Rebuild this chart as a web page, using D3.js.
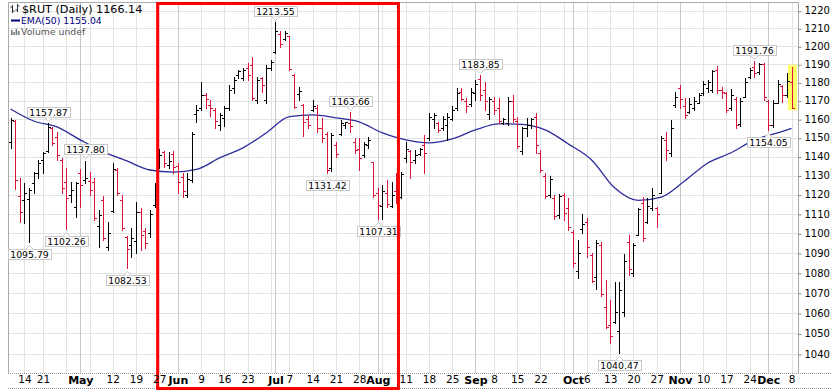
<!DOCTYPE html>
<html>
<head>
<meta charset="utf-8">
<script src="https://cdn.jsdelivr.net/npm/d3@7"></script>
<style>
  body { margin: 0; background: #fff; }
  text { font-family: "DejaVu Sans", Verdana, sans-serif; }
</style>
</head>
<body>
<div id="chart"></div>
<script>
// trading days, Apr 9 - Dec 8 2014
var dates = [
  '04-09','04-10','04-11','04-14','04-15','04-16','04-17','04-21','04-22','04-23','04-24','04-25','04-28','04-29','04-30',
  '05-01','05-02','05-05','05-06','05-07','05-08','05-09','05-12','05-13','05-14','05-15','05-16','05-19','05-20','05-21','05-22','05-23','05-27','05-28','05-29','05-30',
  '06-02','06-03','06-04','06-05','06-06','06-09','06-10','06-11','06-12','06-13','06-16','06-17','06-18','06-19','06-20','06-23','06-24','06-25','06-26','06-27','06-30',
  '07-01','07-02','07-03','07-07','07-08','07-09','07-10','07-11','07-14','07-15','07-16','07-17','07-18','07-21','07-22','07-23','07-24','07-25','07-28','07-29','07-30','07-31',
  '08-01','08-04','08-05','08-06','08-07','08-08','08-11','08-12','08-13','08-14','08-15','08-18','08-19','08-20','08-21','08-22','08-25','08-26','08-27','08-28','08-29',
  '09-02','09-03','09-04','09-05','09-08','09-09','09-10','09-11','09-12','09-15','09-16','09-17','09-18','09-19','09-22','09-23','09-24','09-25','09-26','09-29','09-30',
  '10-01','10-02','10-03','10-06','10-07','10-08','10-09','10-10','10-13','10-14','10-15','10-16','10-17','10-20','10-21','10-22','10-23','10-24','10-27','10-28','10-29','10-30','10-31',
  '11-03','11-04','11-05','11-06','11-07','11-10','11-11','11-12','11-13','11-14','11-17','11-18','11-19','11-20','11-21','11-24','11-25','11-26','11-28',
  '12-01','12-02','12-03','12-04','12-05','12-08'
];

var opens = [
  1147.8,1159.0,1119.3,1117.2,1117.7,1126.0,1131.3,1138.2,1143.0,1155.3,1150.4,1138.2,1126.6,1119.8,1113.6,
  1131.3,1127.6,1127.1,1126.6,1104.0,1117.2,1093.0,1111.6,1132.9,1117.2,1098.3,1094.0,1096.0,1111.0,1101.0,1100.0,1114.5,1138.0,1142.4,1135.5,1141.4,
  1135.0,1129.0,1120.0,1127.6,1162.8,1166.0,1173.0,1167.7,1165.0,1157.0,1160.7,1166.0,1176.9,1183.9,1182.4,1187.8,1189.6,1170.4,1182.4,1170.4,1187.8,
  1197.0,1207.0,1204.0,1205.5,1184.1,1173.5,1167.7,1160.0,1165.0,1166.0,1155.5,1152.0,1134.0,1146.0,1152.0,1157.0,1158.0,1148.0,1144.0,1141.0,1146.0,1137.0,
  1121.0,1114.0,1121.0,1114.0,1122.0,1119.0,1139.0,1143.0,1138.0,1141.5,1146.0,1150.0,1160.0,1158.0,1155.0,1157.0,1160.0,1166.0,1175.0,1170.0,1168.0,
  1174.0,1182.0,1176.0,1163.0,1170.0,1166.0,1158.0,1158.0,1170.0,1159.0,1143.0,1155.0,1157.0,1161.0,1142.0,1130.0,1120.0,1118.0,1109.5,1120.0,1113.0,
  1100.8,1081.0,1102.0,1106.0,1089.0,1078.0,1094.0,1063.0,1054.0,1055.7,1051.0,1060.5,1095.7,1080.0,1099.2,1115.5,1106.0,1113.0,1112.9,1121.0,1148.9,1142.0,1167.5,
  1176.8,1167.0,1164.0,1166.0,1169.0,1174.0,1177.0,1176.0,1187.0,1176.0,1174.0,1166.0,1171.0,1157.5,1172.0,1183.0,1188.5,1185.5,1190.0,
  1170.0,1157.0,1169.0,1177.8,1173.0,1180.3
];
var highs = [
  1160.7,1159.6,1128.7,1126.0,1123.4,1131.8,1138.2,1142.5,1157.87,1155.8,1153.1,1139.2,1133.9,1126.6,1126.6,
  1133.4,1137.80,1131.8,1128.7,1112.0,1119.3,1106.0,1136.6,1134.0,1119.8,1098.5,1102.7,1116.0,1113.0,1103.0,1112.0,1126.0,1144.0,1143.0,1142.4,1143.0,
  1136.6,1131.3,1131.3,1153.1,1167.7,1180.4,1174.0,1170.4,1166.0,1163.4,1167.2,1178.5,1183.0,1186.6,1187.8,1190.5,1193.8,1183.0,1183.0,1189.6,1192.4,
  1213.55,1208.5,1208.5,1206.0,1184.6,1177.3,1168.2,1162.3,1170.4,1167.7,1160.7,1153.3,1152.6,1148.0,1159.6,1158.7,1163.66,1149.8,1149.8,1148.0,1150.5,1137.3,
  1123.3,1125.0,1127.9,1126.5,1131.3,1132.0,1148.0,1143.5,1143.5,1144.6,1151.5,1163.4,1163.4,1158.5,1161.5,1163.4,1167.2,1176.7,1176.7,1171.3,1176.7,
  1181.3,1183.85,1180.0,1172.0,1172.0,1171.3,1160.7,1172.2,1173.1,1161.0,1155.8,1160.7,1160.7,1163.4,1143.5,1131.3,1129.5,1119.8,1120.5,1120.6,1118.0,
  1101.7,1096.6,1109.8,1108.0,1090.0,1096.6,1095.7,1076.2,1066.5,1075.4,1075.4,1089.6,1099.0,1095.0,1112.9,1118.9,1118.0,1123.4,1113.7,1150.7,1153.3,1159.6,1174.6,
  1178.5,1171.3,1171.3,1172.2,1174.0,1180.7,1181.3,1186.8,1189.0,1177.6,1175.0,1176.2,1172.0,1171.3,1182.2,1187.7,1191.76,1190.5,1190.5,
  1170.4,1170.4,1181.3,1178.5,1185.0,1188.6
];
var lows = [
  1144.6,1122.9,1105.8,1105.3,1095.79,1120.8,1128.7,1131.3,1142.5,1146.2,1138.2,1120.8,1102.26,1116.2,1108.3,
  1113.6,1126.0,1119.8,1107.0,1093.0,1096.6,1091.5,1111.0,1119.8,1101.7,1082.53,1088.0,1090.0,1091.5,1092.5,1098.0,1113.6,1134.0,1134.5,1134.0,1131.3,
  1120.8,1119.0,1118.7,1126.5,1158.5,1165.0,1166.0,1161.6,1155.1,1154.2,1156.4,1165.0,1174.2,1182.6,1181.3,1181.3,1170.4,1168.6,1175.0,1168.6,1186.8,
  1196.2,1199.5,1203.5,1186.8,1166.3,1170.4,1150.7,1155.1,1164.4,1153.3,1148.0,1131.42,1132.4,1140.0,1151.5,1155.1,1153.1,1141.8,1132.7,1140.0,1144.3,1118.7,
  1107.31,1107.6,1113.6,1113.6,1115.6,1118.2,1137.0,1128.7,1136.6,1140.9,1131.2,1149.0,1155.1,1153.3,1154.2,1149.0,1159.6,1165.0,1170.4,1164.0,1166.9,
  1170.4,1170.4,1165.0,1160.0,1163.0,1157.8,1157.5,1156.9,1158.7,1144.6,1141.4,1151.0,1155.3,1142.0,1131.8,1118.2,1118.9,1107.6,1108.0,1106.8,1101.7,
  1083.1,1077.2,1100.3,1088.0,1075.5,1072.0,1068.4,1052.5,1045.3,1054.9,1040.47,1058.6,1079.0,1078.2,1099.2,1096.0,1105.2,1112.0,1103.4,1120.6,1138.2,1140.2,1166.4,
  1166.1,1160.7,1163.3,1165.0,1168.7,1173.1,1175.0,1175.0,1174.2,1171.3,1164.1,1165.0,1155.0,1156.2,1172.0,1182.2,1183.0,1184.5,1170.4,
  1154.05,1156.0,1168.6,1169.5,1172.2,1165.9
];
var closes = [
  1159.6,1127.6,1111.0,1120.8,1122.4,1131.3,1136.6,1141.9,1155.8,1147.3,1140.9,1123.4,1118.2,1122.4,1126.0,
  1125.0,1128.7,1122.4,1108.0,1109.5,1097.6,1100.0,1133.4,1120.8,1102.7,1092.0,1097.6,1111.0,1099.0,1095.0,1110.0,1125.0,1141.0,1136.6,1137.5,1134.5,
  1126.6,1122.0,1128.0,1152.0,1165.0,1173.0,1171.0,1166.0,1159.2,1162.3,1166.2,1175.8,1181.3,1186.0,1186.8,1184.1,1171.5,1181.3,1178.5,1187.8,1191.3,
  1208.5,1201.0,1207.5,1187.3,1166.6,1175.5,1158.7,1157.0,1167.0,1155.0,1150.0,1133.0,1151.5,1141.5,1158.0,1158.5,1156.5,1143.5,1139.0,1146.5,1149.0,1120.0,
  1114.5,1122.0,1115.0,1120.0,1116.0,1131.0,1144.0,1137.0,1141.0,1144.0,1142.0,1161.0,1162.5,1154.0,1160.0,1161.0,1165.0,1174.0,1171.0,1167.0,1174.5,
  1179.0,1173.0,1170.0,1171.0,1165.0,1159.0,1160.0,1170.0,1160.0,1145.7,1155.0,1157.0,1160.0,1146.0,1133.0,1119.5,1128.0,1109.0,1119.2,1110.3,1103.4,
  1084.8,1090.0,1105.0,1093.0,1076.0,1095.0,1069.5,1053.0,1048.5,1060.7,1071.4,1086.0,1081.8,1094.0,1112.4,1097.5,1114.0,1120.0,1110.0,1149.8,1143.5,1155.5,1172.0,
  1171.0,1162.0,1168.0,1170.0,1173.0,1179.0,1180.0,1186.0,1176.0,1175.0,1165.0,1173.0,1157.0,1170.0,1180.0,1187.0,1185.0,1190.0,1172.0,
  1157.0,1169.0,1179.0,1173.0,1181.0,1166.14
];

// EMA(50) at every 5th bar
var emaIdx = [0,5,10,15,20,25,30,35,40,45,50,55,60,65,70,75,80,85,90,95,100,105,110,115,120,125,130,135,140,145,150,155,160,165,168];
var emaVal = [1165.5,1159,1155.8,1148.9,1142.5,1137.7,1132.9,1131.8,1133.2,1139.3,1144.6,1152.6,1161.4,1162.3,1160.7,1158.5,1152.6,1148.9,1147.3,1149.4,
              1154.2,1157.5,1157.2,1154.2,1146.7,1138.2,1123.4,1117,1118.7,1127.1,1136.6,1142,1148.9,1152.6,1155.04];

var yTicks = d3.range(1040, 1221, 10);

// x axis labels
var labelDates = ['04-14','04-21','05-01','05-12','05-19','05-27','06-02','06-09','06-16','06-23','07-01','07-07','07-14','07-21','07-28',
                  '08-01','08-11','08-18','08-25','09-02','09-08','09-15','09-22','10-01','10-06','10-13','10-20','10-27',
                  '11-03','11-10','11-17','11-24','12-01','12-08'];
var labelText = ['14','21','May','12','19','27','Jun','9','16','23','Jul','7','14','21','28',
                 'Aug','11','18','25','Sep','8','15','22','Oct','6','13','20','27',
                 'Nov','10','17','24','Dec','8'];
var monthNames = ['May','Jun','Jul','Aug','Sep','Oct','Nov','Dec'];

// week starts get a grid line, month starts a darker one
var weekDates = ['04-14','04-21','04-28','05-05','05-12','05-19','05-27','06-02','06-09','06-16','06-23','06-30','07-07','07-14','07-21','07-28',
                 '08-04','08-11','08-18','08-25','09-02','09-08','09-15','09-22','09-29','10-06','10-13','10-20','10-27',
                 '11-03','11-10','11-17','11-24','12-01','12-08'];
var monthDates = ['05-01','06-02','07-01','08-01','09-02','10-01','11-03','12-01'];

var highLabelIdx = [8,16,57,73,101,160];
var lowLabelIdx = [4,12,25,68,79,131,163];

// boxed period (in bar units)
var boxFrom = 31.65, boxTo = 83.45;

var W = 832, H = 390;
var plot = {left: 8, right: 798, top: 2, bottom: 373};

var svg = d3.select('#chart').append('svg')
    .attr('width', W)
    .attr('height', H);

svg.append('rect').attr('width', W).attr('height', H).attr('fill', '#fff');

var x = d3.scalePoint()
    .domain(dates)
    .range([10.5, 791.5]);

var y = d3.scaleLog()
    .domain([1040, 1220])
    .range([354, 10.7]);

function px(d) { return Math.round(x(d)) + 0.5; }
function py(v) { return Math.round(y(v)) + 0.5; }

// grid
var grid = svg.append('g').attr('class', 'grid');
grid.selectAll('.hgrid').data(yTicks).enter().append('line')
    .attr('x1', plot.left).attr('x2', plot.right)
    .attr('y1', py).attr('y2', py)
    .attr('stroke', '#e3e3e3');
grid.selectAll('.wgrid').data(weekDates).enter().append('line')
    .attr('x1', px).attr('x2', px)
    .attr('y1', plot.top).attr('y2', plot.bottom)
    .attr('stroke', '#e3e3e3');
grid.selectAll('.mgrid').data(monthDates).enter().append('line')
    .attr('x1', px).attr('x2', px)
    .attr('y1', plot.top).attr('y2', plot.bottom)
    .attr('stroke', '#c8c8c8');

// frame: solid top/left/right, dotted along the date strip
svg.append('path')
    .attr('d', 'M' + (plot.left + 0.5) + ',' + plot.bottom + 'V' + (plot.top + 0.5) +
               'H' + (plot.right + 0.5) + 'V' + plot.bottom)
    .attr('fill', 'none').attr('stroke', '#aaa');
svg.selectAll('.dots').data([plot.bottom + 0.5, 388.5]).enter().append('line')
    .attr('x1', plot.left).attr('x2', W)
    .attr('y1', function(d) { return d; }).attr('y2', function(d) { return d; })
    .attr('stroke', '#999').attr('stroke-dasharray', '1,1');

// last bar highlight
var last = dates.length - 1;
svg.append('rect')
    .attr('x', px(dates[last]) - 4.5)
    .attr('y', y(highs[last]) - 2)
    .attr('width', 9)
    .attr('height', y(lows[last]) - y(highs[last]) + 4)
    .attr('fill', '#ffff66');

// EMA
var ema = d3.line()
    .curve(d3.curveMonotoneX)
    .x(function(d, i) { return x(dates[d]); })
    .y(function(d, i) { return y(emaVal[i]); });
svg.append('path')
    .datum(emaIdx)
    .attr('d', ema)
    .attr('fill', 'none')
    .attr('stroke', '#2c2c9c')
    .attr('stroke-width', 1.3);

// OHLC bars, coloured on close vs previous close
var bars = svg.append('g').attr('class', 'bars');
dates.forEach(function(d, i) {
    var up = i === 0 || closes[i] >= closes[i - 1];
    var c = up ? '#000' : '#dc143c';
    var cx = px(d);
    bars.append('path')
        .attr('d', 'M' + cx + ',' + Math.round(y(highs[i])) + 'V' + (Math.round(y(lows[i])) + 1) +
                   'M' + (cx - 2.5) + ',' + py(opens[i]) + 'H' + cx +
                   'M' + cx + ',' + py(closes[i]) + 'H' + (cx + 2.5))
        .attr('stroke', c)
        .attr('fill', 'none');
});

// price call-outs
function callout(i, isHigh) {
    var v = isHigh ? highs[i] : lows[i];
    var cx = px(dates[i]);
    var yv = y(v);
    var g = svg.append('g');
    var t = g.append('text')
        .text(v.toFixed(2))
        .attr('font-family', '"Liberation Sans", Arial, sans-serif')
        .attr('font-size', 9.3)
        .attr('text-anchor', 'middle')
        .attr('x', cx);
    var w = t.node().getComputedTextLength() + 5;
    var top = isHigh ? yv - 16.5 : yv + 7;
    var bx = Math.round(cx - w / 2) + 0.5;
    var by = Math.round(top) + 0.5;
    g.insert('rect', 'text')
        .attr('x', bx).attr('y', by)
        .attr('width', Math.round(w)).attr('height', 10)
        .attr('fill', '#fff').attr('stroke', '#c8c8c8');
    t.attr('y', by + 8.3);
    var tip = isHigh ? by + 10 : by;
    var tipEnd = isHigh ? tip + 4 : tip - 4;
    g.append('path')
        .attr('d', 'M' + (cx - 4) + ',' + tip + 'L' + cx + ',' + tipEnd + 'L' + (cx + 4) + ',' + tip)
        .attr('fill', '#fff').attr('stroke', '#c8c8c8');
}
highLabelIdx.forEach(function(i) { callout(i, true); });
lowLabelIdx.forEach(function(i) { callout(i, false); });

// boxed period
var step = x.step();
svg.append('rect')
    .attr('x', x(dates[0]) + boxFrom * step)
    .attr('y', 3.5)
    .attr('width', (boxTo - boxFrom) * step)
    .attr('height', 385)
    .attr('fill', 'none')
    .attr('stroke', '#ff0000')
    .attr('stroke-width', 3);

// right price axis
var yAxis = svg.append('g')
    .attr('transform', 'translate(' + (plot.right + 0.5) + ',0)')
    .call(d3.axisRight(y).tickValues(yTicks).tickSize(3).tickPadding(3).tickFormat(d3.format('d')));
yAxis.select('.domain').remove();
yAxis.selectAll('line').attr('stroke', '#888').attr('transform', 'translate(0,0.5)');
yAxis.selectAll('text')
    .attr('font-family', '"Liberation Sans", Arial, sans-serif')
    .attr('font-size', 10)
    .attr('fill', '#000');

// date axis
var xAxis = svg.append('g')
    .attr('transform', 'translate(0,' + plot.bottom + ')')
    .call(d3.axisBottom(x).tickValues(labelDates).tickSize(0).tickPadding(3)
        .tickFormat(function(d, i) { return labelText[i]; }));
xAxis.select('.domain').remove();
xAxis.selectAll('text')
    .attr('font-family', '"Liberation Sans", Arial, sans-serif')
    .attr('font-size', function(d, i) { return monthNames.indexOf(labelText[i]) >= 0 ? 11 : 10.5; })
    .attr('font-weight', function(d, i) { return monthNames.indexOf(labelText[i]) >= 0 ? 'bold' : 'normal'; })
    .attr('fill', '#000');

// legend
var lg = svg.append('g');
lg.append('path')
    .attr('d', 'M12.5,5V13M10.5,7H12.5M12.5,11H14.5M17.5,4V12M15.5,10H17.5M17.5,6H19.5')
    .attr('stroke', '#333').attr('fill', 'none');
lg.append('text').attr('x', 22).attr('y', 13).attr('font-size', 11.2).attr('fill', '#000')
    .text('$RUT (Daily) 1166.14');
lg.append('line').attr('x1', 11).attr('x2', 20).attr('y1', 20.5).attr('y2', 20.5)
    .attr('stroke', '#000080').attr('stroke-width', 2);
lg.append('text').attr('x', 21).attr('y', 24).attr('font-size', 9.3).attr('fill', '#000080')
    .text('EMA(50) 1155.04');
lg.selectAll('.vb').data([5, 3, 6, 4]).enter().append('rect')
    .attr('x', function(d, i) { return 11 + i * 2.3; })
    .attr('y', function(d) { return 35 - d; })
    .attr('width', 1.6).attr('height', function(d) { return d; })
    .attr('fill', '#777');
lg.append('text').attr('x', 21).attr('y', 35).attr('font-size', 9.3).attr('fill', '#555')
    .text('Volume undef');
</script>
</body>
</html>
